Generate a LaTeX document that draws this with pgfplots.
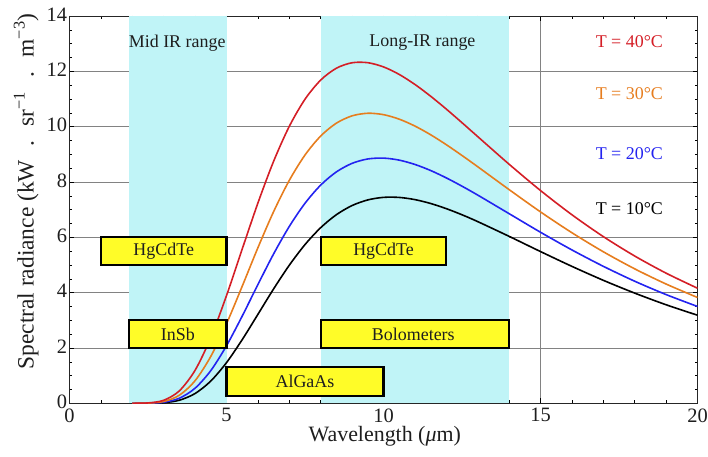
\documentclass[border=0pt]{standalone}
\usepackage{fontspec}
\setmainfont{Liberation Serif}
\usepackage{pgfplots}
\usepackage{pgfplotstable}
\pgfplotsset{compat=1.18}
\definecolor{bandc}{RGB}{192,244,247}
\definecolor{boxy}{RGB}{255,252,40}
\definecolor{cred}{RGB}{212,30,38}
\definecolor{corange}{RGB}{230,125,30}
\definecolor{cblue}{RGB}{35,35,240}
\definecolor{gridc}{RGB}{130,130,130}
\definecolor{txt}{RGB}{30,30,30}
\pgfplotsset{
  layers/mylayers/.define layer set={axis background,axis grid,main,axis ticks,axis lines,axis tick labels,axis descriptions,axis foreground}{},
}
\pgfplotstableread{
lam   T10    T20    T30    T40
2.0   0.000  0.000  0.000  0.000
2.5   0.002  0.004  0.007  0.013
3.0   0.022  0.038  0.066  0.109
3.5   0.112  0.184  0.293  0.451
4.0   0.354  0.546  0.818  1.194
4.5   0.805  1.183  1.696  2.375
5.0   1.470  2.080  2.875  3.893
5.5   2.300  3.152  4.231  5.575
6.0   3.215  4.292  5.623  7.239
6.5   4.135  5.399  6.927  8.747
7.0   4.991  6.393  8.059  10.012
7.5   5.737  7.230  8.975  10.991
8.0   6.349  7.888  9.662  11.684
8.5   6.818  8.365  10.127 12.113
9.0   7.149  8.674  10.391 12.310
9.5   7.352  8.832  10.484 12.312
10.0  7.444  8.863  10.434 12.160
10.5  7.442  8.790  10.271 11.888
11.0  7.363  8.634  10.022 11.526
11.5  7.223  8.415  9.708  11.101
12.0  7.036  8.148  9.348  10.635
12.5  6.815  7.848  8.958  10.143
13.0  6.568  7.527  8.552  9.641
14.0  6.035  6.855  7.725  8.642
15.0  5.485  6.183  6.919  7.691
16.0  4.950  5.544  6.166  6.816
17.0  4.446  4.952  5.478  6.026
18.0  3.983  4.413  4.860  5.324
19.0  3.562  3.930  4.311  4.704
20.0  3.184  3.500  3.825  4.160
}\radtable
\begin{document}
\begin{tikzpicture}
\begin{axis}[
  set layers=mylayers,
  scale only axis, width=628bp, height=387.3bp,
  xmin=0, xmax=20, ymin=0, ymax=14,
  xtick={0,5,10,15,20}, ytick={0,2,...,14},
  minor x tick num=4, minor y tick num=3,
  tick align=inside,
  major tick length=5bp, minor tick length=3bp,
  every tick/.style={black, line width=0.6bp},
  grid=major, major grid style={gridc, line width=0.7bp},
  axis line style={black!85, line width=0.8bp},
  tick label style={font=\fontsize{20.5}{22}\selectfont, text=txt},
  /pgf/number format/assume math mode=true,
  xticklabel style={inner sep=0pt, yshift=-5bp},
  yticklabel style={inner sep=0pt, xshift=-2.3bp, yshift=1.5bp},
  xlabel={Wavelength ({\itshape μ}m)},
  xlabel style={font=\fontsize{22}{24}\selectfont, text=txt, at={(axis description cs:0.502,-0.099)}, anchor=base},
  ylabel={Spectral radiance (kW\hspace{0.6em}.\hspace{0.6em}sr\textsuperscript{−1}\hspace{0.6em}.\hspace{0.6em}m\textsuperscript{−3})},
  ylabel style={font=\fontsize{23.5}{25}\selectfont, text=txt, at={(axis description cs:-0.0573,0.547)}, anchor=base},
]
% bands
\addplot[fill=bandc, draw=none] coordinates {(1.9,0) (5,0) (5,14) (1.9,14)} --cycle;
\addplot[fill=bandc, draw=none] coordinates {(8,0) (14,0) (14,14) (8,14)} --cycle;
% curves
\addplot[black, line width=1.6bp, smooth] table[x=lam, y=T10] {\radtable};
\addplot[cblue, line width=1.6bp, smooth] table[x=lam, y=T20] {\radtable};
\addplot[corange, line width=1.6bp, smooth] table[x=lam, y=T30] {\radtable};
\addplot[cred, line width=1.6bp, smooth] table[x=lam, y=T40] {\radtable};
% boxes
\addplot[fill=boxy, draw=black, line width=2.2bp] coordinates {(1,5) (5,5) (5,6) (1,6)} --cycle;
\addplot[fill=boxy, draw=black, line width=2.2bp] coordinates {(1.9,2) (5,2) (5,3) (1.9,3)} --cycle;
\addplot[fill=boxy, draw=black, line width=2.2bp] coordinates {(5,0.25) (10,0.25) (10,1.3) (5,1.3)} --cycle;
\addplot[fill=boxy, draw=black, line width=2.2bp] coordinates {(8,5) (12,5) (12,6) (8,6)} --cycle;
\addplot[fill=boxy, draw=black, line width=2.2bp] coordinates {(8,2) (14,2) (14,3) (8,3)} --cycle;
% box labels
\begin{scope}[every node/.style={font=\fontsize{18}{20}\selectfont, text=txt}]
\node at (axis cs:3,5.5) {HgCdTe};
\node at (axis cs:3.45,2.5) {InSb};
\node at (axis cs:7.5,0.78) {AlGaAs};
\node at (axis cs:10,5.5) {HgCdTe};
\node at (axis cs:10.95,2.5) {Bolometers};
\node at (axis cs:3.43,13.02) {Mid IR range};
\node at (axis cs:11.24,13.04) {Long-IR range};
\node[text=cred] at (axis cs:17.83,13.07) {T = 40°C};
\node[text=corange] at (axis cs:17.83,11.21) {T = 30°C};
\node[text=cblue] at (axis cs:17.83,9.04) {T = 20°C};
\node[text=black] at (axis cs:17.83,7.05) {T = 10°C};
\end{scope}
\end{axis}
\pgfresetboundingbox
\path ([shift={(-69.5bp,-53.7bp)}]current axis.south west) rectangle ([shift={(10.5bp,16bp)}]current axis.north east);
\end{tikzpicture}
\end{document}
